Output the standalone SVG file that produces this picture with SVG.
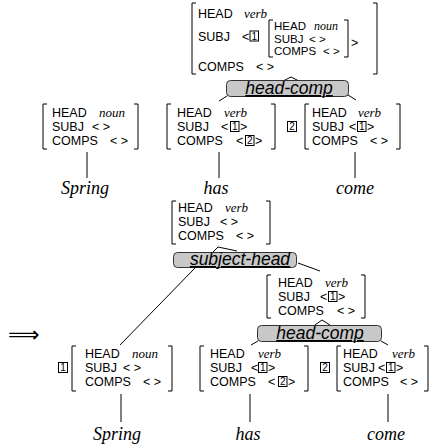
<svg xmlns="http://www.w3.org/2000/svg" width="436" height="445" viewBox="0 0 436 445">
<style>
.t{font-family:"Liberation Sans",Arial,sans-serif;font-size:12.5px;fill:#000}
.ti{font-family:"Liberation Sans",Arial,sans-serif;font-size:11.5px;fill:#000}
.v{font-family:"Liberation Serif","Times New Roman",serif;font-style:italic;font-size:13px;fill:#000}
.vi{font-family:"Liberation Serif","Times New Roman",serif;font-style:italic;font-size:12px;fill:#000}
.w{font-family:"Liberation Serif","Times New Roman",serif;font-style:italic;font-size:18px;fill:#000;text-anchor:middle}
.lab{font-family:"Liberation Sans",Arial,sans-serif;font-style:italic;font-size:17.5px;fill:#000;text-anchor:middle;text-decoration:underline}
.box{fill:#c8c8c8;stroke:#333;stroke-width:1}
.br{fill:none;stroke:#000;stroke-width:1}
.ln{fill:none;stroke:#000;stroke-width:1}
.tg{fill:none;stroke:#000;stroke-width:1}
.tn{font-family:"Liberation Sans",Arial,sans-serif;font-size:10px;text-anchor:middle;fill:#000}
.arr{font-family:"DejaVu Sans",sans-serif;font-size:22px;fill:#000}
</style>
<rect width="436" height="445" fill="#fff"/>

<g id="connectors">
  <path class="ln" d="M283 81 L291 77 L299 81"/>
  <path class="ln" d="M227 96 L219 101"/>
  <path class="ln" d="M348 95 L356 100"/>
  <path class="ln" d="M87 152 V178"/>
  <path class="ln" d="M219 152 V178"/>
  <path class="ln" d="M355 152 V178"/>
  <path class="ln" d="M213 252 L218 247 L237 251"/>
  <path class="ln" d="M195 268 L120 345"/>
  <path class="ln" d="M298 263 L320 271"/>
  <path class="ln" d="M315 325 L322 320 L330 325"/>
  <path class="ln" d="M258 341 L251 345"/>
  <path class="ln" d="M381 341 L388 345"/>
  <path class="ln" d="M121 394 V422"/>
  <path class="ln" d="M250 394 V422"/>
  <path class="ln" d="M388 394 V422"/>
</g>

<g id="top-avm">
  <path class="br" d="M196 3 H192 V74 H196"/>
  <path class="br" d="M373 3 H377 V74 H373"/>
  <text class="t" x="198" y="18">HEAD</text><text class="v" x="244" y="18">verb</text>
  <text class="t" x="198" y="41">SUBJ</text><text class="t" x="242" y="41">&lt;</text>
  <rect class="tg" x="250" y="31" width="8.5" height="10"/><text class="tn" x="254.2" y="39.5">1</text>
  <path class="br" d="M273 20 H269 V57 H273"/>
  <path class="br" d="M344 20 H348 V57 H344"/>
  <text class="ti" x="274" y="30">HEAD</text><text class="vi" x="314" y="30">noun</text>
  <text class="ti" x="274" y="42.5">SUBJ</text><text class="ti" x="309" y="42.5">&lt; &gt;</text>
  <text class="ti" x="274" y="55">COMPS</text><text class="ti" x="323" y="55">&lt; &gt;</text>
  <text class="t" x="351" y="47">&gt;</text>
  <text class="t" x="198" y="71">COMPS</text><text class="t" x="256" y="71">&lt; &gt;</text>
</g>

<g id="head-comp-top">
  <rect class="box" x="226.5" y="80.5" width="122" height="16" rx="4"/>
  <text class="lab" x="289" y="94">head-comp</text>
</g>

<g id="spring-avm-top">
  <path class="br" d="M47 104 H43 V149 H47"/>
  <path class="br" d="M134 104 H138 V149 H134"/>
  <text class="t" x="52" y="117">HEAD</text><text class="v" x="99" y="117">noun</text>
  <text class="t" x="52" y="131">SUBJ</text><text class="t" x="92" y="131">&lt; &gt;</text>
  <text class="t" x="52" y="145">COMPS</text><text class="t" x="110" y="145">&lt; &gt;</text>
</g>
<g id="has-avm-top">
  <path class="br" d="M171 104 H167 V149 H171"/>
  <path class="br" d="M271 104 H275 V149 H271"/>
  <text class="t" x="177" y="117">HEAD</text><text class="v" x="224" y="117">verb</text>
  <text class="t" x="177" y="131">SUBJ</text><text class="t" x="221" y="131">&lt;</text>
  <rect class="tg" x="230.5" y="121.5" width="8.5" height="10"/><text class="tn" x="234.7" y="130">1</text>
  <text class="t" x="240" y="131">&gt;</text>
  <text class="t" x="177" y="145">COMPS</text><text class="t" x="236" y="145">&lt;</text>
  <rect class="tg" x="245.5" y="135.5" width="8.5" height="10"/><text class="tn" x="249.7" y="144">2</text>
  <text class="t" x="255" y="145">&gt;</text>
</g>
<g id="tag2-top">
  <rect class="tg" x="287.5" y="121.5" width="9" height="10"/><text class="tn" x="292" y="130">2</text>
</g>
<g id="come-avm-top">
  <path class="br" d="M309 104 H305 V149 H309"/>
  <path class="br" d="M396 104 H400 V149 H396"/>
  <text class="t" x="312" y="117">HEAD</text><text class="v" x="358" y="117">verb</text>
  <text class="t" x="312" y="131">SUBJ</text><text class="t" x="349" y="131">&lt;</text>
  <rect class="tg" x="357.5" y="121.5" width="8.5" height="10"/><text class="tn" x="361.7" y="130">1</text>
  <text class="t" x="367" y="131">&gt;</text>
  <text class="t" x="312" y="145">COMPS</text><text class="t" x="370" y="145">&lt; &gt;</text>
</g>
<g id="words-top">
  <text class="w" x="85" y="194">Spring</text>
  <text class="w" x="216" y="194">has</text>
  <text class="w" x="355" y="194">come</text>
</g>

<g id="sh-avm">
  <path class="br" d="M176 201 H172 V244 H176"/>
  <path class="br" d="M266 201 H270 V244 H266"/>
  <text class="t" x="178" y="212">HEAD</text><text class="v" x="225" y="212">verb</text>
  <text class="t" x="178" y="226">SUBJ</text><text class="t" x="220" y="226">&lt; &gt;</text>
  <text class="t" x="178" y="240">COMPS</text><text class="t" x="236" y="240">&lt; &gt;</text>
</g>
<g id="subject-head">
  <rect class="box" x="173.5" y="252.5" width="123" height="15" rx="4"/>
  <text class="lab" x="240" y="265">subject-head</text>
</g>
<g id="hc-avm">
  <path class="br" d="M271 275 H267 V318 H271"/>
  <path class="br" d="M361 275 H365 V318 H361"/>
  <text class="t" x="278" y="287">HEAD</text><text class="v" x="325" y="287">verb</text>
  <text class="t" x="278" y="301">SUBJ</text><text class="t" x="320" y="301">&lt;</text>
  <rect class="tg" x="328.5" y="291.5" width="8.5" height="10"/><text class="tn" x="332.7" y="300">1</text>
  <text class="t" x="338" y="301">&gt;</text>
  <text class="t" x="278" y="315">COMPS</text><text class="t" x="337" y="315">&lt; &gt;</text>
</g>
<g id="head-comp-bottom">
  <rect class="box" x="257.5" y="325.5" width="124" height="16" rx="4"/>
  <text class="lab" x="320" y="339">head-comp</text>
</g>
<g id="arrow">
  <text class="arr" x="8" y="342">⟹</text>
</g>

<g id="spring-avm-bottom">
  <rect class="tg" x="58.5" y="362.5" width="9" height="10"/><text class="tn" x="63" y="371">1</text>
  <path class="br" d="M76 346 H72 V391 H76"/>
  <path class="br" d="M168 346 H172 V391 H168"/>
  <text class="t" x="85" y="358">HEAD</text><text class="v" x="132" y="358">noun</text>
  <text class="t" x="85" y="372">SUBJ</text><text class="t" x="123" y="372">&lt; &gt;</text>
  <text class="t" x="85" y="386">COMPS</text><text class="t" x="143" y="386">&lt; &gt;</text>
</g>
<g id="has-avm-bottom">
  <path class="br" d="M204 346 H200 V391 H204"/>
  <path class="br" d="M304 346 H308 V391 H304"/>
  <text class="t" x="210" y="358">HEAD</text><text class="v" x="258" y="358">verb</text>
  <text class="t" x="210" y="372">SUBJ</text><text class="t" x="251" y="372">&lt;</text>
  <rect class="tg" x="258.5" y="362.5" width="8.5" height="10"/><text class="tn" x="262.7" y="371">1</text>
  <text class="t" x="268" y="372">&gt;</text>
  <text class="t" x="210" y="386">COMPS</text><text class="t" x="268" y="386">&lt;</text>
  <rect class="tg" x="278.5" y="376.5" width="8.5" height="10"/><text class="tn" x="282.7" y="385">2</text>
  <text class="t" x="288" y="386">&gt;</text>
</g>
<g id="tag2-bottom">
  <rect class="tg" x="320.5" y="362.5" width="9" height="10"/><text class="tn" x="325" y="371">2</text>
</g>
<g id="come-avm-bottom">
  <path class="br" d="M341 346 H337 V391 H341"/>
  <path class="br" d="M424 346 H428 V391 H424"/>
  <text class="t" x="343" y="358">HEAD</text><text class="v" x="392" y="358">verb</text>
  <text class="t" x="343" y="372">SUBJ</text><text class="t" x="378" y="372">&lt;</text>
  <rect class="tg" x="386.5" y="362.5" width="8.5" height="10"/><text class="tn" x="390.7" y="371">1</text>
  <text class="t" x="396" y="372">&gt;</text>
  <text class="t" x="343" y="386">COMPS</text><text class="t" x="400" y="386">&lt; &gt;</text>
</g>
<g id="words-bottom">
  <text class="w" x="117" y="440">Spring</text>
  <text class="w" x="248" y="440">has</text>
  <text class="w" x="386" y="440">come</text>
</g>
</svg>
